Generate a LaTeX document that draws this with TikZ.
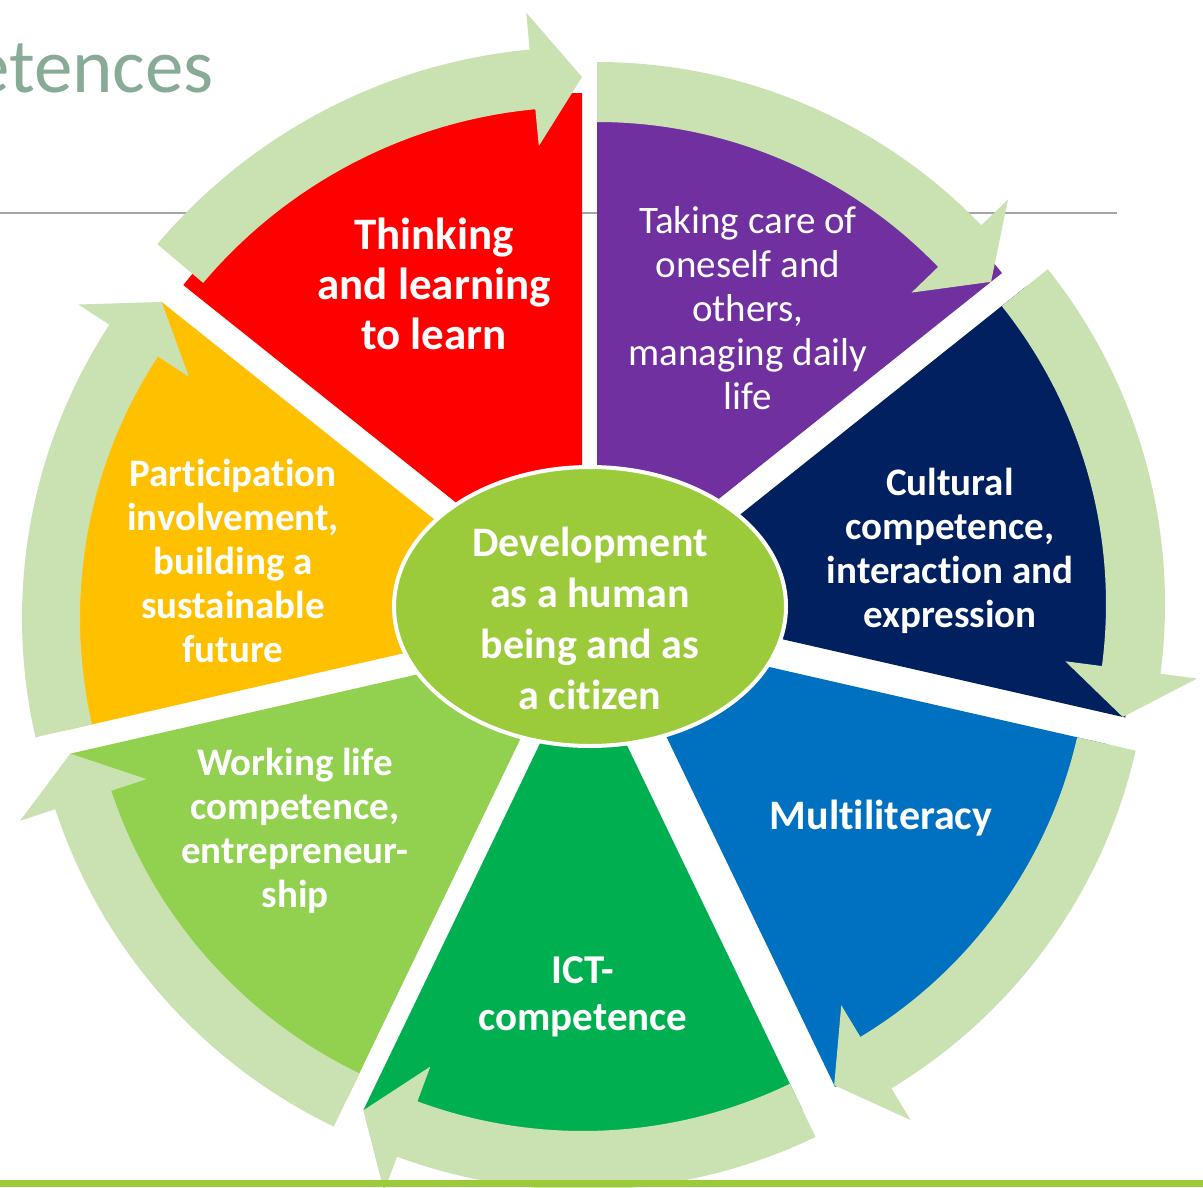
\documentclass[tikz,border=0pt]{standalone}
\usepackage{fontspec}
\setmainfont{Carlito}[Ligatures=NoCommon]
\usetikzlibrary{calc,shapes.geometric}
\definecolor{cRed}{HTML}{FF0000}
\definecolor{cPurple}{HTML}{7030A0}
\definecolor{cNavy}{HTML}{002060}
\definecolor{cBlue}{HTML}{0070C0}
\definecolor{cIct}{HTML}{00B050}
\definecolor{cWork}{HTML}{92D050}
\definecolor{cOrange}{HTML}{FFC000}
\definecolor{cArrow}{HTML}{CAE2B2}
\definecolor{cCore}{HTML}{9BCB3B}
\definecolor{cTitle}{HTML}{88AB98}
\definecolor{cRule}{HTML}{A6A6A6}
\definecolor{cBottom}{HTML}{9BCB3B}
\tikzset{
  lbl/.style={text=white, align=center, inner sep=0pt},
  bandfill/.style={fill=cArrow},
}
% wedge: apex x, apex y (screen), lead angle, trail angle, radius, colour
\newcommand{\segwedge}[6]{%
  \fill[#6] (#1,-#2) -- ++(#3:#5pt) arc[start angle=#3, end angle=#4, radius=#5pt] -- cycle;}
% arrow band: apex x, apex y, lead angle, tail angle, inner r, outer r
\newcommand{\segarrow}[6]{%
  \pgfmathsetmacro\sgB{#3+5.4}%
  \pgfmathsetmacro\sgM{(#5+#6)/2}%
  \pgfmathsetmacro\sgI{#5-37}%
  \pgfmathsetmacro\sgO{#6+37}%
  \fill[bandfill] ($(#1,-#2)+(#4:#5pt)$) arc[start angle=#4, end angle=\sgB, radius=#5pt]
    -- ($(#1,-#2)+(\sgB:\sgI pt)$) -- ($(#1,-#2)+(#3:\sgM pt)$)
    -- ($(#1,-#2)+(\sgB:\sgO pt)$) -- ($(#1,-#2)+(\sgB:#6pt)$)
    arc[start angle=\sgB, end angle=#4, radius=#6pt] -- cycle;}
\begin{document}
\begin{tikzpicture}[x=1pt,y=1pt]
\useasboundingbox (0,0) rectangle (1203,-1187);
\fill[white] (0,0) rectangle (1203,-1187);
% slide decorations
\node[anchor=base east, text=cTitle, font=\fontsize{77}{77}\selectfont, inner sep=0pt] (title) at (214,-92) {etences};
\draw[cRule, line width=1.5pt] (0,-213) -- (1117,-213);
% wedges
\segwedge{582}{603}{90}{141.43}{510}{cRed}
\segwedge{597}{596}{38.57}{90}{518}{cPurple}
\segwedge{628}{604}{-12.86}{38.57}{510}{cNavy}
\segwedge{616}{632}{-64.29}{-12.86}{505}{cBlue}
\segwedge{583}{654}{244.29}{295.71}{506}{cIct}
\segwedge{568}{640}{192.86}{244.29}{510}{cWork}
\segwedge{558}{618}{141.43}{192.86}{507}{cOrange}
% circular arrows
\segarrow{582}{603}{90}{139.8}{496}{556}
\segarrow{597}{596}{38.57}{90}{474}{534}
\segarrow{628}{604}{-12.86}{38.57}{478}{537}
\segarrow{616}{632}{-64.29}{-12.86}{473}{533}
\segarrow{583}{654}{244.29}{295.71}{477}{536}
\segarrow{568}{640}{192.86}{244.29}{481}{540}
\segarrow{558}{618}{141.43}{192.86}{478}{536}
% centre
\node[ellipse, draw=white, line width=4pt, fill=cCore, minimum width=392pt, minimum height=279pt, inner sep=0pt] (core) at (590,-606.5) {};
\node[lbl, font=\bfseries\fontsize{42}{51}\selectfont] (coretext) at (590,-618) {Development\\as a human\\being and as\\a citizen};
% labels
\node[lbl, font=\bfseries\fontsize{45}{50}\selectfont] (think) at (434,-284) {Thinking\\and learning\\to learn};
\node[lbl, font=\fontsize{39}{44}\selectfont] (care) at (748,-308) {Taking care of\\oneself and\\others,\\managing daily\\life};
\node[lbl, font=\bfseries\fontsize{39}{44}\selectfont] (culture) at (950,-551) {Cultural\\competence,\\interaction and\\expression};
\node[lbl, font=\bfseries\fontsize{42}{47}\selectfont] (multi) at (881,-818) {Multiliteracy};
\node[lbl, font=\bfseries\fontsize{41}{47}\selectfont] (ict) at (583,-997) {ICT-\\competence};
\node[lbl, font=\bfseries\fontsize{39}{44}\selectfont] (work) at (295,-831) {Working life\\competence,\\entrepreneur-\\ship};
\node[lbl, font=\bfseries\fontsize{39}{44}\selectfont] (particip) at (233,-561) {Participation\\involvement,\\building a\\sustainable\\future};
% bottom rule
\fill[cBottom] (0,-1180) rectangle (1203,-1187);
\end{tikzpicture}
\end{document}
